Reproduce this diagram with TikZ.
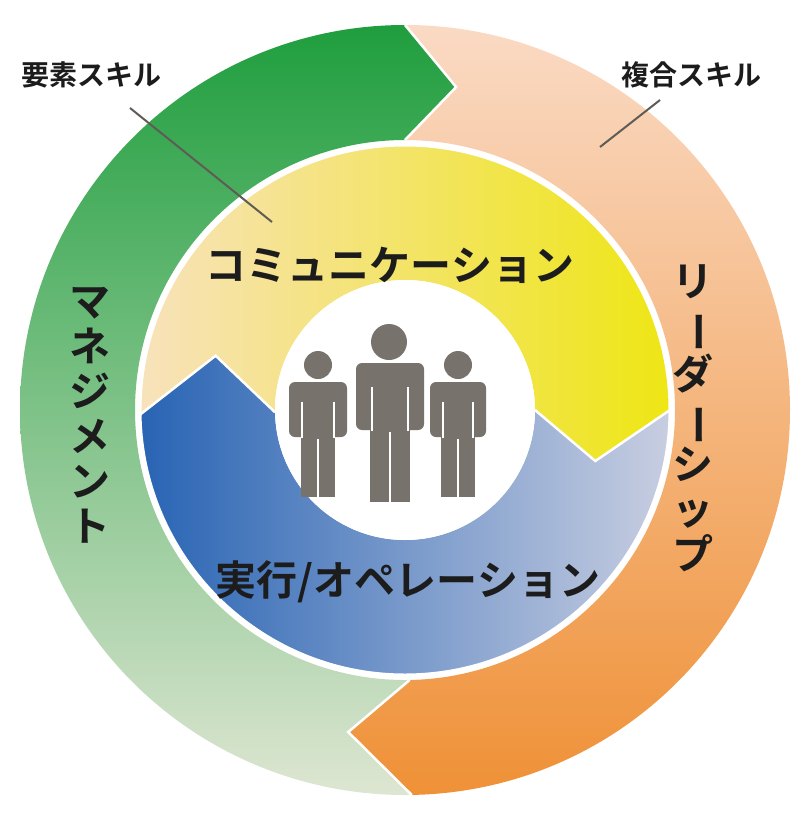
\documentclass[tikz,border=0pt]{standalone}
\usepackage{fontspec}
\usepackage{graphicx}
\newfontfamily\jp{Noto Sans CJK JP Bold}
\definecolor{txt}{HTML}{1C1C1C}
\definecolor{fig}{HTML}{77736C}
\definecolor{gA}{RGB}{31,158,62}
\definecolor{gB}{RGB}{100,170,80}
\definecolor{gC}{RGB}{222,230,210}
\definecolor{oA}{RGB}{250,218,196}
\definecolor{oB}{RGB}{240,150,70}
\definecolor{oC}{RGB}{239,145,55}
\definecolor{yA}{RGB}{248,226,188}
\definecolor{yB}{RGB}{238,230,20}
\definecolor{bA}{RGB}{40,100,180}
\definecolor{bB}{RGB}{200,206,225}
\newcommand{\vbar}{\rotatebox[origin=c]{-90}{ー}}
\begin{document}
\begin{tikzpicture}[x=1pt,y=-1pt,
  big/.style={font=\jp\fontsize{41}{45}\selectfont, text=txt, inner sep=0pt},
  small/.style={font=\jp\fontsize{28}{30}\selectfont, text=txt, inner sep=0pt},
  sep/.style={draw=white, line width=2.5pt},
  gap/.style={draw=white, line width=2.2pt}]
\useasboundingbox (0,0) rectangle (800,825);
\fill[white] (0,0) rectangle (800,825);
\begin{scope}[shift={(405,410)}]
\shade[top color=gA, middle color=gB, bottom color=gC]
  (-90:385) arc[start angle=-90,end angle=-271,radius=385] -- (-260:327) -- (-271:270)
  arc[start angle=-271,end angle=-90,radius=270] -- (-81:327) -- cycle;
\shade[top color=oA, middle color=oB, bottom color=oC]
  (-90:385) -- (-81:327) -- (-90:270) arc[start angle=-90,end angle=89,radius=270]
  -- (100:327) -- (89:385) arc[start angle=89,end angle=-90,radius=385] -- cycle;
\draw[sep] (-90:385) -- (-81:327) -- (-90:270);
\draw[sep] (89:385) -- (100:327) -- (89:270);
\shade[left color=yA, right color=yB]
  (-181:265) -- (-164:197) -- (-181:130) arc[start angle=-181,end angle=0,radius=130]
  -- (15:197) -- (0:265) arc[start angle=0,end angle=-181,radius=265] -- cycle;
\shade[left color=bA, right color=bB]
  (-181:265) -- (-164:197) -- (-181:130) arc[start angle=-181,end angle=-360,radius=130]
  -- (-345:197) -- (-360:265) arc[start angle=-360,end angle=-181,radius=265] -- cycle;
\draw[sep] (-181:265) -- (-164:197) -- (-181:130);
\draw[sep] (0:265) -- (15:197) -- (0:130);
\draw[white, line width=3pt] (0,0) circle[radius=265];
\fill[white] (0,0) circle[radius=130];
\end{scope}
\newcommand{\person}[9]{%
  \fill[fig] (#1,#2) circle[radius=#3];
  \fill[fig, rounded corners=6pt] (#4,#6) rectangle (#5,#7);
  \fill[fig] ({#4+0.2*(#5-#4)},{#7-10}) rectangle ({#5-0.2*(#5-#4)},#8);
  \draw[gap] ({#4+0.23*(#5-#4)},#9) -- ({#4+0.23*(#5-#4)},{#7+1});
  \draw[gap] ({#5-0.23*(#5-#4)},#9) -- ({#5-0.23*(#5-#4)},{#7+1});
  \draw[gap] ({(#4+#5)/2},{#7+2}) -- ({(#4+#5)/2},{#8+1});
}
\person{389}{342}{18}{356}{424}{363}{430}{502}{387}
\person{318}{365}{14}{289}{347}{382}{437}{497}{402}
\person{458}{365}{14}{430}{486}{382}{437}{497}{402}
\node[big] (comm) at (390,265) {コミュニケーション};
\node[big] (ope) at (408,582) {実行/オペレーション};
\node[big, align=center] (mgmt) at (90,415) {マ\\ネ\\ジ\\メ\\ン\\ト};
\node[big, align=center] (lead) at (693,418) {リ\\\vbar\\ダ\\\vbar\\シ\\ッ\\プ};
\node[small] (el) at (91,75) {要素スキル};
\node[small] (cp) at (691,75) {複合スキル};
\coordinate (elend) at (272,222);
\coordinate (cpend) at (600,147);
\draw[fig!80!black, line width=2pt] (130,108) -- (elend);
\draw[fig!80!black, line width=2pt] (660,100) -- (cpend);
\end{tikzpicture}
\end{document}
